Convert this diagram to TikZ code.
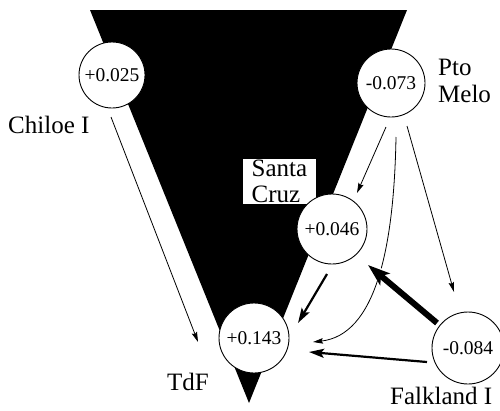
\documentclass[tikz,border=0pt]{standalone}
\usepackage{fontspec}
\setmainfont{Liberation Serif}
\usetikzlibrary{arrows.meta}
\tikzset{
  circ/.style={circle, draw, fill=white, line width=0.9pt, minimum size=#1, inner sep=0pt,
    font=\fontsize{19.5}{20}\selectfont},
  circ/.default=69pt,
  lab/.style={anchor=base west, inner sep=0pt, font=\fontsize{25}{25}\selectfont},
  thinarr/.style={line width=0.8pt, -{Stealth[length=10pt,width=5.5pt,inset=1.5pt]}},
  medarr/.style={line width=2.2pt, -{Stealth[length=15pt,width=9pt,inset=3pt]}},
  thickarr/.style={line width=6pt, -{Stealth[length=22pt,width=15pt,inset=5pt]}},
  halo/.style={draw=white, line width=12pt}
}
\begin{document}
\begin{tikzpicture}[x=1pt,y=-1pt]
\useasboundingbox (0,0) rectangle (500,410);
% map (triangle)
\fill[black] (90,10) -- (407,10) -- (249,403) -- cycle;
% Santa Cruz label box
\node[fill=white, inner xsep=9pt, inner ysep=1.5pt, align=left,
      font=\fontsize{25}{26}\selectfont] (sclab) at (279.5,181.5) {Santa\\Cruz};
% connector end points
\coordinate (chF) at (111,117);  \coordinate (chT) at (198,342);
\coordinate (psF) at (386,127);  \coordinate (psT) at (357,193);
\coordinate (ptF) at (396,137);  \coordinate (ptT) at (313,342);
\coordinate (pfF) at (407,126);  \coordinate (pfT) at (454,292);
\coordinate (stF) at (327,274);  \coordinate (stT) at (298,323);
\coordinate (fsF) at (437,323);  \coordinate (fsT) at (368,265);
\coordinate (ftF) at (427,362);  \coordinate (ftT) at (309,352);
% curved connector Pto Melo -> TdF (under the thick arrow)
\draw[thinarr] (ptF) .. controls (394,250) and (375,335) .. (ptT);
\draw[halo] (fsF) -- (fsT);
% populations
\node[circ=66pt] (chiloe) at (112,75) {+0.025};
\node[circ=68pt] (pto) at (391,83) {-0.073};
\node[circ=70pt] (santa) at (332,229) {+0.046};
\node[circ=70pt] (tdf) at (254,338) {+0.143};
\node[circ=72pt] (falk) at (468,348) {-0.084};
% labels
\node[lab] (lchiloe) at (8,133) {Chiloe I};
\node[lab] (lpto) at (438,75) {Pto};
\node[lab] (lmelo) at (438,102) {Melo};
\node[lab] (ltdf) at (167,390) {TdF};
\node[lab] (lfalk) at (390,404) {Falkland I};
% connectors
\draw[thinarr] (chF) -- (chT);
\draw[thinarr] (psF) -- (psT);
\draw[thinarr] (pfF) -- (pfT);
\draw[medarr] (stF) -- (stT);
\draw[medarr] (ftF) -- (ftT);
\draw[thickarr] (fsF) -- (fsT);
\end{tikzpicture}
\end{document}
